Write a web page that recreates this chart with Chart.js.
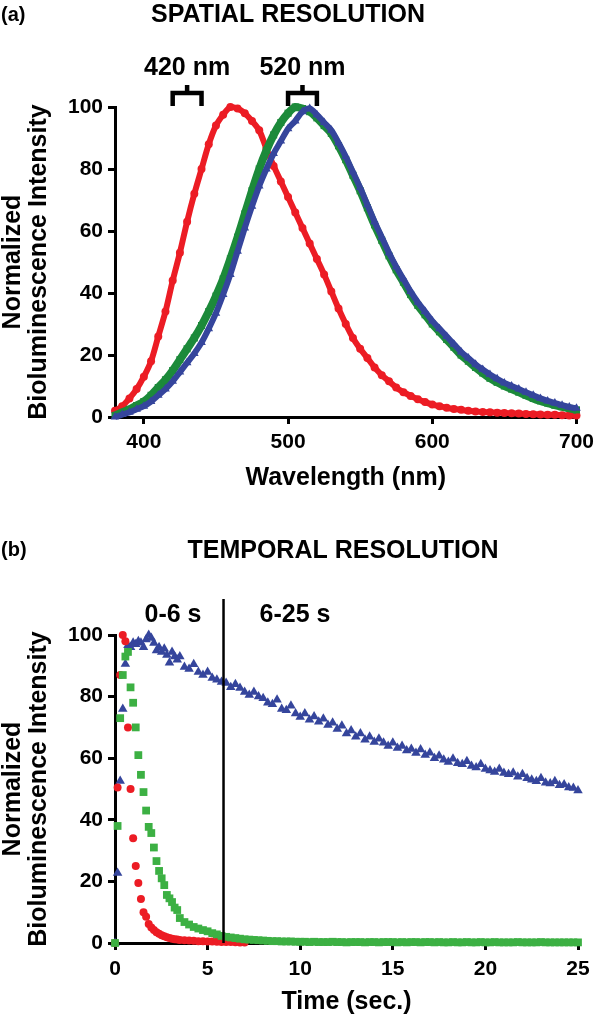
<!DOCTYPE html>
<html>
<head>
<meta charset="utf-8">
<script src="https://cdn.jsdelivr.net/npm/chart.js@4.4.1/dist/chart.umd.min.js"></script>
<style>
  html, body { margin: 0; padding: 0; background: #fff; }
  .panel { position: absolute; left: 0; width: 600px; }
  #panelA { top: 0; height: 500px; }
  #panelB { top: 500px; height: 520px; }
</style>
</head>
<body>
<div class="panel" id="panelA"><canvas id="spatialChart" width="600" height="500"></canvas></div>
<div class="panel" id="panelB"><canvas id="temporalChart" width="600" height="520"></canvas></div>
<script>
// ============================================
//  (a) Spatial resolution — emission spectra
// ============================================
const wavelengths = [380, 385, 390, 395, 400, 405, 410, 415, 420, 425,
  430, 435, 440, 445, 450, 455, 460, 465, 470, 475,
  480, 485, 490, 495, 500, 505, 510, 515, 520, 525,
  530, 535, 540, 545, 550, 555, 560, 565, 570, 575,
  580, 585, 590, 595, 600, 605, 610, 615, 620, 625,
  630, 635, 640, 645, 650, 655, 660, 665, 670, 675,
  680, 685, 690, 695, 700];
const spectrumRed = [2, 3.5, 6, 9, 13, 18, 26, 34, 44, 53,
  63, 72, 80, 88, 94, 97.5, 100, 99.5, 98, 95.5,
  92.5, 86.5, 81, 76, 71, 66, 61, 56, 51, 46,
  40.5, 35, 30, 25.5, 22, 19, 16, 13.5, 11.5, 9.5,
  8, 6.8, 5.7, 4.8, 4, 3.5, 3, 2.6, 2.3, 2,
  1.8, 1.6, 1.5, 1.4, 1.3, 1.2, 1.1, 1, 0.9, 0.8,
  0.7, 0.7, 0.6, 0.5, 0.5];
const spectrumGreen = [0.5, 1.5, 2.5, 3.7, 5, 7, 9.5, 12, 15, 18.5,
  22, 25.5, 29.5, 34, 39, 44.5, 51, 58, 65.5, 73,
  80, 86, 91, 95, 98, 100, 99.5, 98.5, 96.5, 94,
  91.5, 87.5, 83, 78, 73, 67.5, 62, 57, 52, 47.5,
  43.5, 39.5, 36, 33, 30, 27.5, 25, 22.5, 20, 18,
  16, 14.2, 12.5, 11.2, 10, 9, 8, 7, 6, 5.2,
  4.5, 3.8, 3.3, 2.8, 2.3];
const spectrumBlue = [0, 0.8, 1.5, 2.5, 3.5, 5, 7, 9, 11.5, 14.5,
  17.5, 20.5, 24, 28.5, 33.5, 39.5, 46, 53.5, 61, 68,
  74.5, 80, 85, 89, 93, 95.5, 98.5, 99.5, 97.5, 95,
  92.5, 88.5, 84, 79, 74, 68.5, 63, 58, 53, 48.5,
  44.5, 40.5, 37, 34, 31, 28.5, 26, 23.5, 21, 19,
  17, 15.3, 13.7, 12.3, 11, 10, 9, 8, 7, 6,
  5.2, 4.5, 3.8, 3.2, 2.8];
const wavelengthTicks = [400, 500, 600, 700];
const filterBands = [[420, 440], [500, 520]];
const filterLabels = ['420 nm', '520 nm'];

// ============================================
//  (b) Temporal resolution — decay kinetics
// ============================================
const timeSec = [0, 0.14, 0.28, 0.42, 0.56, 0.7, 0.84, 0.98, 1.12, 1.26,
  1.4, 1.54, 1.68, 1.82, 1.96, 2.1, 2.24, 2.38, 2.52, 2.66,
  2.8, 2.94, 3.08, 3.22, 3.36, 3.5,
  3.75, 4, 4.25, 4.5, 4.75, 5, 5.25, 5.5, 5.75, 6,
  6.25, 6.5, 6.75, 7, 7.25, 7.5, 7.75, 8, 8.25, 8.5,
  8.75, 9, 9.25, 9.5, 9.75, 10, 10.25, 10.5, 10.75, 11,
  11.25, 11.5, 11.75, 12, 12.25, 12.5, 12.75, 13, 13.25, 13.5,
  13.75, 14, 14.25, 14.5, 14.75, 15, 15.25, 15.5, 15.75, 16,
  16.25, 16.5, 16.75, 17, 17.25, 17.5, 17.75, 18, 18.25, 18.5,
  18.75, 19, 19.25, 19.5, 19.75, 20, 20.25, 20.5, 20.75, 21,
  21.25, 21.5, 21.75, 22, 22.25, 22.5, 22.75, 23, 23.25, 23.5,
  23.75, 24, 24.25, 24.5, 24.75, 25];
const kineticsGreen = [0, 38, 73, 87, 93, 94.5, 83, 78, 70, 61,
  54.6, 49, 43, 37.7, 35.7, 31, 26.6, 23.4, 21, 18.8,
  15.6, 14.5, 13.3, 11.5, 10.7, 8.1,
  6.8, 6, 5.2, 4.7, 4.2, 3.8, 3.2, 2.8, 2.3, 2,
  1.8, 1.6, 1.4, 1.2, 1.1, 1, 0.9, 0.8, 0.7, 0.6,
  0.6, 0.5, 0.5, 0.5, 0.4, 0.4, 0.4, 0.3, 0.4, 0.3,
  0.3, 0.3, 0.4, 0.3, 0.3, 0.2, 0.3, 0.3, 0.3, 0.2,
  0.3, 0.3, 0.2, 0.3, 0.3, 0.3, 0.2, 0.3, 0.2, 0.3,
  0.3, 0.2, 0.3, 0.3, 0.2, 0.3, 0.2, 0.2, 0.3, 0.2,
  0.2, 0.3, 0.2, 0.2, 0.3, 0.2, 0.2, 0.3, 0.2, 0.2,
  0.2, 0.2, 0.3, 0.2, 0.2, 0.2, 0.2, 0.3, 0.2, 0.2,
  0.2, 0.2, 0.2, 0.2, 0.2, 0.2];
const kineticsRed = [0, 50.5, 87, 100, 98, 70, 50, 34, 25, 19.5,
  14.3, 10, 8.5, 6.2, 5, 4.2, 3.5, 3, 2.5, 2.2,
  1.9, 1.6, 1.4, 1.2, 1.1, 1,
  0.9, 0.8, 0.7, 0.6, 0.55, 0.5, 0.45, 0.4, 0.35, 0.3,
  0.3, 0.25, 0.2, 0.2];
const kineticsBlue = [0, 22.7, 52.6, 76, 90.6, 96.7, 96, 97.5, 97, 98,
  97.5, 96, 98.5, 100, 99, 97.4, 95, 96, 94.5, 95.5,
  93.5, 91, 94.5, 93, 92, 93,
  89.6, 89, 90.5, 88, 87, 88, 86, 85.5, 84.7, 84.4,
  83, 84, 82.8, 81.5, 80.5, 81.5, 80, 79.5, 78, 77.5,
  79, 76, 75.6, 77, 74.5, 73.4, 74.5, 72.5, 73.5, 71.8,
  72.8, 70.8, 71.5, 69.5, 70.5, 68, 69, 67, 68, 66,
  67, 65.3, 66.3, 65, 64, 65, 63.3, 64, 62.5, 63,
  61.7, 62.8, 61, 61.8, 60, 60.8, 59.5, 58.8, 59.8, 58.4,
  58, 59, 57.5, 57, 58, 56.5, 56, 55.5, 56.5, 55.2,
  54.8, 55.3, 54, 54.8, 53.5, 53, 52.5, 53.5, 52, 51.8,
  52.5, 51.2, 51.5, 50.5, 50.3, 49.5];
const timeTicks = [0, 5, 10, 15, 20, 25];
const windowSplit = 5.86;
const windowLabels = ['0-6 s', '6-25 s'];

const intensityTicks = [0, 20, 40, 60, 80, 100];

// ---- estilos ----
const FONT = "'Liberation Sans', Arial, sans-serif";
const RED = '#ec1c24';
const GREEN_DARK = '#1c8a3a';
const GREEN_LIGHT = '#3cb043';
const BLUE = '#35459c';
const BLACK = '#000';

const pairs = (xs, ys) => ys.map((y, i) => ({ x: xs[i], y }));

function axis(opts) {
  return {
    type: 'linear',
    min: opts.min,
    max: opts.max,
    afterBuildTicks: s => { s.ticks = opts.ticks.map(v => ({ value: v })); },
    afterFit: s => {
      if (opts.width) s.width = opts.width;
      if (opts.height) s.height = opts.height;
    },
    grid: { display: true, drawOnChartArea: false, drawTicks: true, tickLength: 7, color: BLACK, lineWidth: 3 },
    border: { display: true, color: BLACK, width: 3 },
    ticks: { color: BLACK, padding: opts.tickPad, font: { family: FONT, size: 21, weight: 'bold' } },
    title: {
      display: true,
      text: opts.title,
      color: BLACK,
      padding: opts.titlePad,
      font: { family: FONT, size: 25, weight: 'bold', lineHeight: opts.titleLH || 1.2 }
    }
  };
}

// ---- textos, corchetes y divisor ----
const overlay = {
  id: 'overlay',
  afterDraw(chart, args, o) {
    const ctx = chart.ctx;
    const xs = chart.scales.x, ys = chart.scales.y;
    ctx.save();
    ctx.fillStyle = BLACK;
    ctx.strokeStyle = BLACK;
    ctx.textBaseline = 'middle';
    (o.texts || []).forEach(t => {
      ctx.font = `bold ${t.size}px ${FONT}`;
      ctx.textAlign = t.align || 'center';
      ctx.fillText(t.text, t.x, t.y);
    });
    (o.brackets || []).forEach(([a, b], i) => {
      const xa = xs.getPixelForValue(a), xb = xs.getPixelForValue(b), xm = (xa + xb) / 2;
      ctx.lineWidth = 4.5;
      ctx.beginPath();
      ctx.moveTo(xa, 106); ctx.lineTo(xa, 93); ctx.lineTo(xb, 93); ctx.lineTo(xb, 106);
      ctx.moveTo(xm, 93); ctx.lineTo(xm, 85);
      ctx.stroke();
      ctx.font = `bold 25px ${FONT}`;
      ctx.textAlign = 'center';
      ctx.fillText(o.bracketLabels[i], xm, 68);
    });
    if (o.divider != null) {
      const xd = xs.getPixelForValue(o.divider);
      ctx.lineWidth = 2.5;
      ctx.beginPath();
      ctx.moveTo(xd, 99);
      ctx.lineTo(xd, ys.getPixelForValue(0));
      ctx.stroke();
      ctx.font = `bold 25px ${FONT}`;
      ctx.textAlign = 'right';
      ctx.fillText(o.dividerLabels[0], xd - 22, 115);
      ctx.textAlign = 'left';
      ctx.fillText(o.dividerLabels[1], xd + 36, 115);
    }
    ctx.restore();
  }
};

const common = {
  responsive: false,
  devicePixelRatio: 1,
  animation: false,
  events: [],
  plugins: { legend: { display: false }, tooltip: { enabled: false } }
};

// ============================================
// 1. Espectros
// ============================================
new Chart(document.getElementById('spatialChart'), {
  type: 'scatter',
  data: {
    datasets: [
      { data: pairs(wavelengths, spectrumBlue), showLine: true, borderColor: BLUE, backgroundColor: BLUE,
        borderWidth: 6, tension: 0.3, pointStyle: 'triangle', pointRadius: 5, pointBorderWidth: 0, clip: false },
      { data: pairs(wavelengths, spectrumGreen), showLine: true, borderColor: GREEN_DARK, backgroundColor: GREEN_DARK,
        borderWidth: 8, tension: 0.3, pointStyle: 'rect', pointRadius: 5, pointBorderWidth: 0, clip: false },
      { data: pairs(wavelengths, spectrumRed), showLine: true, borderColor: RED, backgroundColor: RED,
        borderWidth: 6, tension: 0.3, pointStyle: 'circle', pointRadius: 4, pointBorderWidth: 0, clip: false }
    ]
  },
  options: {
    ...common,
    layout: { padding: { top: 107, right: 21, left: 0, bottom: 0 } },
    scales: {
      x: axis({ min: 380, max: 700, ticks: wavelengthTicks, height: 83, tickPad: 6,
                title: 'Wavelength (nm)', titlePad: { top: 0, bottom: 7 } }),
      y: axis({ min: 0, max: 100, ticks: intensityTicks, width: 115, tickPad: 5,
                title: ['Normalized', 'Bioluminescence Intensity'], titlePad: 0, titleLH: 1.05 })
    },
    plugins: {
      ...common.plugins,
      overlay: {
        texts: [
          { text: '(a)', x: 1, y: 15, size: 20, align: 'left' },
          { text: 'SPATIAL RESOLUTION', x: 288, y: 15, size: 25 }
        ],
        brackets: filterBands,
        bracketLabels: filterLabels
      }
    }
  },
  plugins: [overlay]
});

// ============================================
// 2. Cinética
// ============================================
new Chart(document.getElementById('temporalChart'), {
  type: 'scatter',
  data: {
    datasets: [
      { data: pairs(timeSec, kineticsGreen), backgroundColor: GREEN_LIGHT, pointStyle: 'rect',
        pointRadius: 5.5, pointBorderWidth: 0, clip: false },
      { data: pairs(timeSec, kineticsRed), backgroundColor: RED, pointStyle: 'circle',
        pointRadius: 4, pointBorderWidth: 0, clip: false },
      { data: pairs(timeSec, kineticsBlue), backgroundColor: BLUE, pointStyle: 'triangle',
        pointRadius: 5.5, pointBorderWidth: 0, clip: false }
    ]
  },
  options: {
    ...common,
    layout: { padding: { top: 135, right: 22, left: 0, bottom: 0 } },
    scales: {
      x: axis({ min: 0, max: 25, ticks: timeTicks, height: 77, tickPad: 7,
                title: 'Time (sec.)', titlePad: { top: 0, bottom: 3 } }),
      y: axis({ min: 0, max: 100, ticks: intensityTicks, width: 115, tickPad: 5,
                title: ['Normalized', 'Bioluminescence Intensity'], titlePad: 0, titleLH: 1.05 })
    },
    plugins: {
      ...common.plugins,
      overlay: {
        texts: [
          { text: '(b)', x: 1, y: 50, size: 20, align: 'left' },
          { text: 'TEMPORAL RESOLUTION', x: 343, y: 51, size: 25 }
        ],
        divider: windowSplit,
        dividerLabels: windowLabels
      }
    }
  },
  plugins: [overlay]
});
</script>
</body>
</html>
